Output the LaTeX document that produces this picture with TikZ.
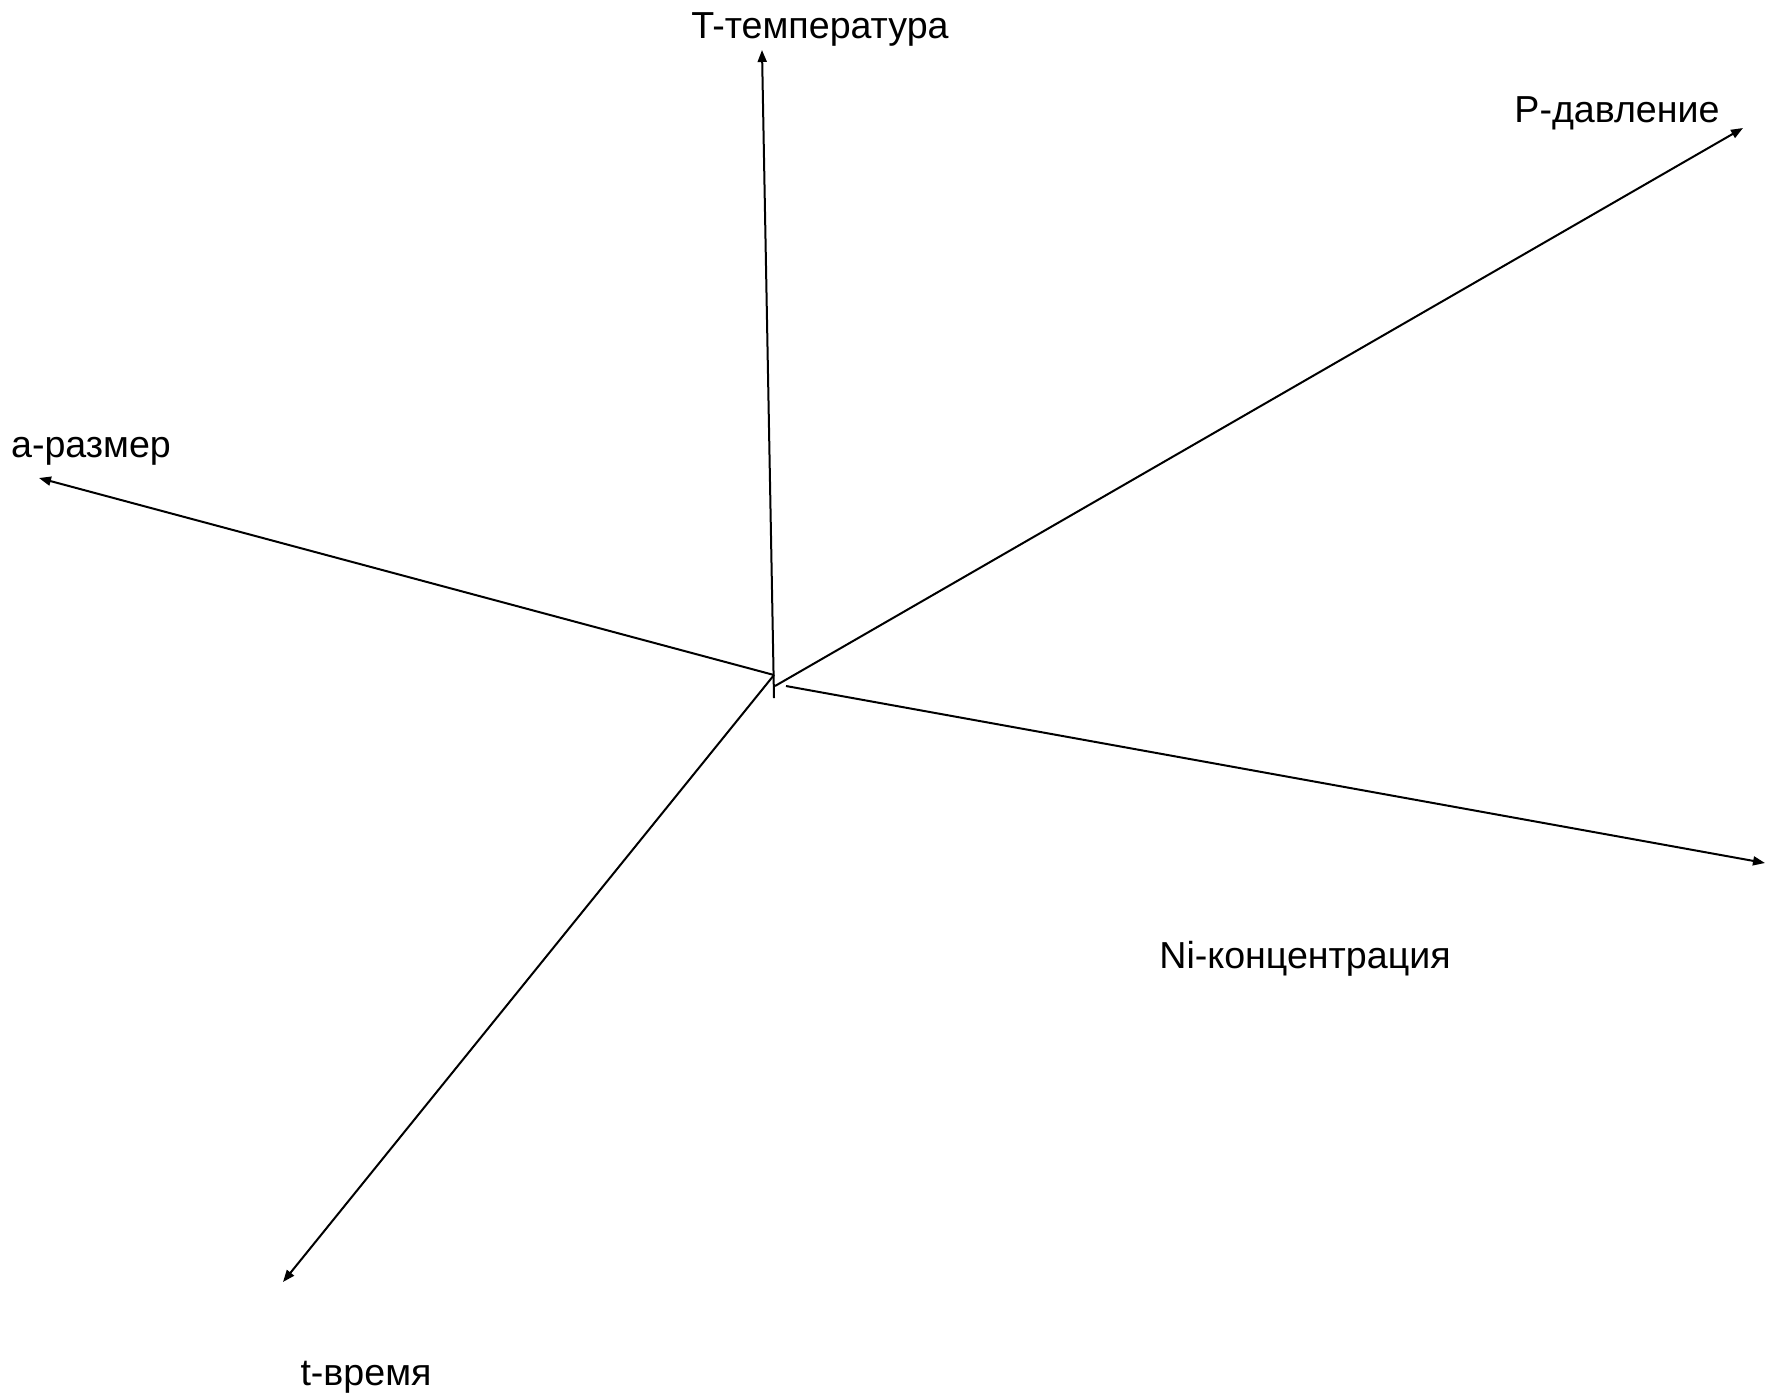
\documentclass[tikz,border=0pt]{standalone}
\usepackage{fontspec}
\setmainfont{Liberation Sans}
\usetikzlibrary{arrows.meta}
\begin{document}
\begin{tikzpicture}[x=0.5pt,y=-0.5pt,
  axis/.style={line width=1pt,-{Triangle[length=6pt,width=4.5pt]}},
  lbl/.style={anchor=base,inner sep=0pt,font=\fontsize{18.8pt}{22pt}\selectfont}]
\useasboundingbox (0,0) rectangle (1778,1399);
\coordinate (oT) at (774,698);
\coordinate (oA) at (774,675);
\coordinate (oP) at (775,686);
\coordinate (oN) at (786,686);
\coordinate (eT) at (762,50);
\coordinate (eA) at (39,478);
\coordinate (eP) at (1743,128);
\coordinate (eN) at (1765,863);
\coordinate (et) at (283,1282);
\draw[axis] (oT) -- (eT);
\draw[axis] (oA) -- (eA);
\draw[axis] (oA) -- (et);
\draw[axis] (oP) -- (eP);
\draw[axis] (oN) -- (eN);
\node[lbl] (lT) at (820,38) {T-температура};
\node[lbl] (lP) at (1617,122) {P-давление};
\node[lbl] (lA) at (91,457) {а-размер};
\node[lbl] (lN) at (1305,968) {Ni-концентрация};
\node[lbl] (lt) at (366,1385) {t-время};
\end{tikzpicture}
\end{document}
